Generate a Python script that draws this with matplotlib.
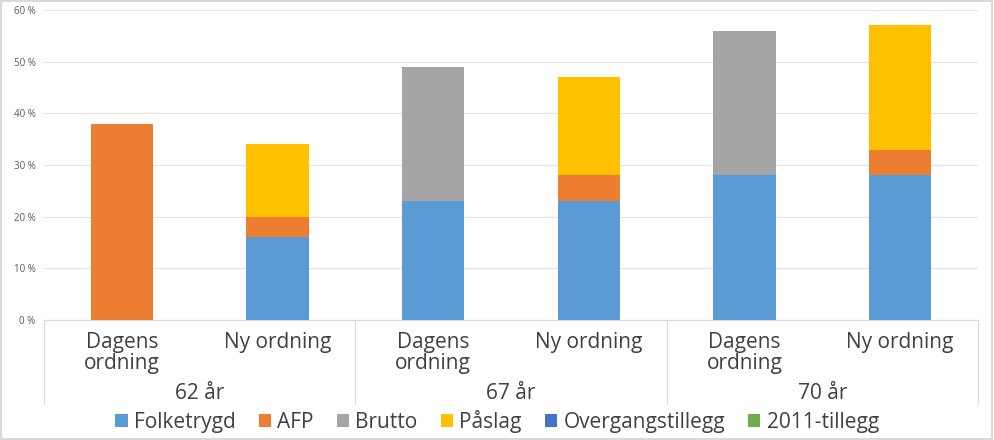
import matplotlib.pyplot as plt
from matplotlib.patches import Rectangle
from matplotlib.lines import Line2D
from matplotlib.transforms import blended_transform_factory
import numpy as np

plt.rcParams['font.family'] = ['Open Sans', 'DejaVu Sans']

kategorier = ["Dagens\nordning", "Ny ordning"] * 3
grupper = ["62 år", "67 år", "70 år"]
serier = ["Folketrygd", "AFP", "Brutto", "Påslag", "Overgangstillegg", "2011-tillegg"]
farger = ["#5B9BD5", "#ED7D31", "#A5A5A5", "#FFC000", "#4472C4", "#70AD47"]

folketrygd = [0, 16, 23, 23, 28, 28]
afp = [38, 4, 0, 5, 0, 5]
brutto = [0, 0, 26, 0, 28, 0]
paslag = [0, 14, 0, 19, 0, 24]
overgang = [0, 0, 0, 0, 0, 0]
tillegg2011 = [0, 0, 0, 0, 0, 0]
verdier = [folketrygd, afp, brutto, paslag, overgang, tillegg2011]

W, H = 994, 440
fig = plt.figure(figsize=(W / 100, H / 100), dpi=100)
ax = fig.add_axes([44 / W, 1 - 320 / H, (978 - 44) / W, (320 - 10) / H])

x = np.arange(len(kategorier))
bunn = np.zeros(len(kategorier))
for navn, farge, v in zip(serier, farger, verdier):
    ax.bar(x, v, 0.4, bottom=bunn, color=farge, label=navn, zorder=3)
    bunn += np.array(v)

ax.set_xlim(-0.5, 5.5)
ax.set_ylim(0, 60)
ax.set_yticks(range(0, 61, 10))
ax.set_yticklabels([f"{t} %" for t in range(0, 61, 10)], fontsize=7, color="#595959")
ax.tick_params(axis="y", length=0, pad=6)
ax.set_xticks([])
ax.grid(axis="y", color="#E4E4E4", linewidth=0.9, zorder=0)
for s in ["top", "right", "left"]:
    ax.spines[s].set_visible(False)
ax.spines["bottom"].set_color("#D9D9D9")

# kategoriakse med to nivaer
tr = blended_transform_factory(ax.transData, fig.transFigure)
for i, k in enumerate(kategorier):
    ax.text(i, 1 - 332 / H, k, transform=tr, ha="center", va="top",
            fontsize=15, color="#404040", linespacing=1.0)
for j, g in enumerate(grupper):
    ax.text(2 * j + 0.5, 1 - 393 / H, g, transform=tr, ha="center", va="center",
            fontsize=15, color="#404040")
for xs in [-0.5, 1.5, 3.5, 5.5]:
    ax.add_line(Line2D([xs, xs], [1 - 320 / H, 1 - 404 / H], transform=tr,
                       color="#D9D9D9", linewidth=0.9, clip_on=False))

fig.legend(loc="center", bbox_to_anchor=(0.5, 1 - 421 / H), ncol=6, frameon=False,
           fontsize=15, handlelength=0.6, handleheight=0.6, handletextpad=0.3,
           columnspacing=1.1, labelcolor="#404040")

fig.add_artist(Rectangle((0.001, 0.002), 0.997, 0.996, transform=fig.transFigure,
                         fill=False, edgecolor="#D9D9D9", linewidth=1.5))

fig.savefig("out.png", dpi=100)
